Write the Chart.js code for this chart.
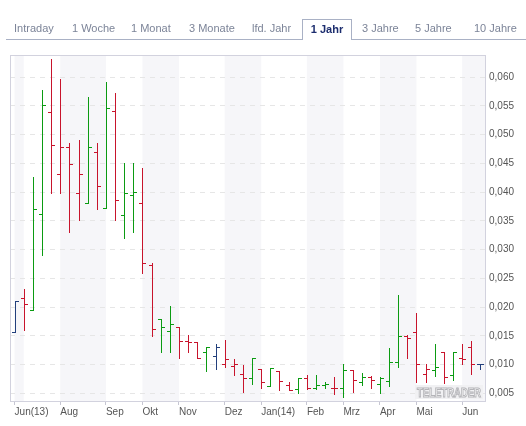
<!DOCTYPE html>
<html>
<head>
<meta charset="utf-8">
<title>1 Jahr</title>
<script src="https://cdn.jsdelivr.net/npm/chart.js@4.4.1/dist/chart.umd.min.js"></script>
<style>
  body { margin: 0; background: #fff; font-family: "Liberation Sans", Arial, sans-serif; }
  #wrap { position: relative; width: 526px; height: 426px; overflow: hidden; }
  #chart { position: absolute; left: 0; top: 0; }
  .tab-line { position: absolute; left: 6px; top: 39px; width: 520px; height: 1px; background: #a9b1c5; }
  .tab {
    position: absolute; top: 19px; height: 20px; line-height: 18px;
    font-size: 11px; color: #7c8498; white-space: nowrap;
  }
  .tab.active {
    color: #1c2d6e; font-weight: bold; background: #fff;
    border: 1px solid #a9b1c5; border-bottom: none;
    height: 20px; text-align: center; z-index: 2;
  }
</style>
</head>
<body>
<div id="wrap">
  <canvas id="chart" width="526" height="426"></canvas>
  <div class="tab-line"></div>
  <div class="tab" style="left:14px">Intraday</div>
  <div class="tab" style="left:72px">1 Woche</div>
  <div class="tab" style="left:131px">1 Monat</div>
  <div class="tab" style="left:189px">3 Monate</div>
  <div class="tab" style="left:252px">lfd. Jahr</div>
  <div class="tab active" style="left:302px;width:48px">1 Jahr</div>
  <div class="tab" style="left:362px">3 Jahre</div>
  <div class="tab" style="left:415px">5 Jahre</div>
  <div class="tab" style="left:474px">10 Jahre</div>
</div>
<script>
// Weekly bars (Friday dates)
const weekDates = [
  "2013-06-28", "2013-07-05", "2013-07-12", "2013-07-19", "2013-07-26",
  "2013-08-02", "2013-08-09", "2013-08-16", "2013-08-23", "2013-08-30",
  "2013-09-06", "2013-09-13", "2013-09-20", "2013-09-27",
  "2013-10-04", "2013-10-11", "2013-10-18", "2013-10-25",
  "2013-11-01", "2013-11-08", "2013-11-15", "2013-11-22", "2013-11-29",
  "2013-12-06", "2013-12-13", "2013-12-20", "2013-12-27",
  "2014-01-03", "2014-01-10", "2014-01-17", "2014-01-24", "2014-01-31",
  "2014-02-07", "2014-02-14", "2014-02-21", "2014-02-28",
  "2014-03-07", "2014-03-14", "2014-03-21", "2014-03-28",
  "2014-04-04", "2014-04-11", "2014-04-18", "2014-04-25",
  "2014-05-02", "2014-05-09", "2014-05-16", "2014-05-23", "2014-05-30",
  "2014-06-06", "2014-06-13", "2014-06-20"
]

const openPrices = [
  0.0156, 0.0215, 0.0195, 0.0361, 0.0540, 0.0432, 0.0479, 0.0398, 0.0381, 0.0470,
  0.0372, 0.0541, 0.0360, 0.0395, 0.0381, 0.0273, 0.0179, 0.0158, 0.0165, 0.0141,
  0.0139, 0.0121, 0.0115, 0.0101, 0.0098, 0.0084, 0.0076, 0.0092, 0.0063, 0.0088,
  0.0064, 0.0057, 0.0076, 0.0059, 0.0064, 0.0060, 0.0059, 0.0091, 0.0069, 0.0079,
  0.0066, 0.0071, 0.0105, 0.0150, 0.0157, 0.0083, 0.0091, 0.0122, 0.0081, 0.0111,
  0.0130, 0.0101
]
const highPrices = [
  0.0211, 0.0232, 0.0427, 0.0577, 0.0631, 0.0596, 0.0486, 0.0491, 0.0566, 0.0486,
  0.0592, 0.0573, 0.0450, 0.0450, 0.0441, 0.0276, 0.0179, 0.0202, 0.0165, 0.0151,
  0.0140, 0.0131, 0.0136, 0.0143, 0.0109, 0.0100, 0.0111, 0.0092, 0.0094, 0.0088,
  0.0070, 0.0076, 0.0081, 0.0081, 0.0069, 0.0079, 0.0101, 0.0091, 0.0085, 0.0080,
  0.0079, 0.0128, 0.0221, 0.0151, 0.0189, 0.0101, 0.0136, 0.0122, 0.0122, 0.0136,
  0.0141, 0.0101
]
const lowPrices = [
  0.0156, 0.0160, 0.0195, 0.0290, 0.0399, 0.0399, 0.0330, 0.0352, 0.0381, 0.0371,
  0.0372, 0.0351, 0.0320, 0.0330, 0.0260, 0.0150, 0.0121, 0.0121, 0.0112, 0.0121,
  0.0111, 0.0089, 0.0092, 0.0095, 0.0081, 0.0053, 0.0067, 0.0060, 0.0063, 0.0056,
  0.0055, 0.0050, 0.0057, 0.0057, 0.0060, 0.0048, 0.0044, 0.0053, 0.0065, 0.0060,
  0.0050, 0.0062, 0.0095, 0.0111, 0.0070, 0.0070, 0.0080, 0.0068, 0.0073, 0.0101,
  0.0083, 0.0092
]
const closePrices = [
  0.0211, 0.0206, 0.0371, 0.0552, 0.0481, 0.0479, 0.0449, 0.0432, 0.0479, 0.0411,
  0.0547, 0.0386, 0.0398, 0.0400, 0.0276, 0.0161, 0.0165, 0.0171, 0.0141, 0.0139,
  0.0111, 0.0131, 0.0131, 0.0109, 0.0101, 0.0076, 0.0111, 0.0069, 0.0094, 0.0071,
  0.0056, 0.0076, 0.0060, 0.0064, 0.0067, 0.0059, 0.0091, 0.0073, 0.0078, 0.0073,
  0.0076, 0.0105, 0.0150, 0.0146, 0.0101, 0.0092, 0.0095, 0.0079, 0.0122, 0.0109,
  0.0101, 0.0101
]

const yTickValues = [0.005, 0.010, 0.015, 0.020, 0.025, 0.030, 0.035, 0.040, 0.045, 0.050, 0.055, 0.060]
const yMin = 0.00366
const yMax = 0.06383

// Month labels under the axis (Jul is left out in the original)
const monthLabelDates = [
  "2013-06-28", "2013-08-02", "2013-09-06", "2013-10-04", "2013-11-01", "2013-12-06",
  "2014-01-03", "2014-02-07", "2014-03-07", "2014-04-04", "2014-05-02", "2014-06-06"
]
const monthLabels = ["Jun(13)", "Aug", "Sep", "Okt", "Nov", "Dez", "Jan(14)", "Feb", "Mrz", "Apr", "Mai", "Jun"]

const FONT = '"Liberation Sans", Arial, sans-serif'
const UP = "#0b9b12"
const DOWN = "#c8142c"
const SAME = "#223f7c"

// colour by comparison with the previous close
const barColors = closePrices.map((c, i) => {
  if (i === 0) return SAME
  if (c > closePrices[i - 1]) return UP
  if (c < closePrices[i - 1]) return DOWN
  return SAME
})

// first bar of each month -> alternating background bands
const monthStarts = weekDates
  .map((d, i) => (i === 0 || d.slice(5, 7) !== weekDates[i - 1].slice(5, 7) ? i : -1))
  .filter((i) => i >= 0)

function labelFor(index) {
  const k = monthLabelDates.indexOf(weekDates[index])
  return k >= 0 ? monthLabels[k] : ""
}

const ohlcPlugin = {
  id: "ohlc",
  beforeDraw(chart) {
    const { ctx, chartArea: a, scales: { x } } = chart
    ctx.save()
    ctx.fillStyle = "#f6f6f9"
    monthStarts.forEach((start, k) => {
      if (k % 2) return
      const x0 = x.getPixelForValue(start)
      const x1 = k + 1 < monthStarts.length ? x.getPixelForValue(monthStarts[k + 1]) : a.right
      ctx.fillRect(x0, a.top, x1 - x0, a.bottom - a.top)
    })
    ctx.restore()
  },
  beforeDatasetsDraw(chart) {
    // watermark
    const { ctx, chartArea: a } = chart
    ctx.save()
    ctx.fillStyle = "#f1f1f3"
    ctx.fillRect(a.right - 70, a.bottom - 16, 68, 14)
    ctx.font = "bold 12px " + FONT
    const text = "TELETRADER"
    const w = ctx.measureText(text).width
    ctx.translate(a.right - 68, a.bottom - 4)
    ctx.scale(64 / w, 1)
    ctx.fillStyle = "#ffffff"
    ctx.strokeStyle = "#b4b4b8"
    ctx.lineWidth = 1
    ctx.fillText(text, 0, 0)
    ctx.strokeText(text, 0, 0)
    ctx.restore()
  },
  afterDatasetsDraw(chart) {
    // high-low stroke from the bar elements, plus open (left) and close (right) ticks
    const { ctx, scales: { y } } = chart
    const bars = chart.getDatasetMeta(0).data
    ctx.save()
    ctx.lineWidth = 1
    bars.forEach((bar, i) => {
      const px = Math.round(bar.x) + 0.5
      const yo = Math.round(y.getPixelForValue(openPrices[i])) + 0.5
      const yc = Math.round(y.getPixelForValue(closePrices[i])) + 0.5
      ctx.strokeStyle = barColors[i]
      ctx.beginPath()
      ctx.moveTo(px, Math.round(bar.y))
      ctx.lineTo(px, Math.round(bar.base) + 1)
      ctx.moveTo(px - 3.5, yo)
      ctx.lineTo(px, yo)
      ctx.moveTo(px, yc)
      ctx.lineTo(px + 3.5, yc)
      ctx.stroke()
    })
    ctx.restore()
  },
  afterDraw(chart) {
    const { ctx, chartArea: a } = chart
    ctx.save()
    ctx.strokeStyle = "#d2d2de"
    ctx.lineWidth = 1
    ctx.strokeRect(Math.round(a.left) + 0.5, Math.round(a.top) + 0.5,
      Math.round(a.right - a.left), Math.round(a.bottom - a.top))
    ctx.restore()
  }
}

new Chart(document.getElementById("chart"), {
  type: "bar",
  data: {
    labels: weekDates,
    datasets: [{
      data: lowPrices.map((l, i) => [l, highPrices[i]]),
      // the plugin strokes each bar element as a crisp 1px line
      backgroundColor: "rgba(0,0,0,0)",
      borderWidth: 0,
      barThickness: 1
    }]
  },
  options: {
    responsive: false,
    animation: false,
    events: [],
    layout: { padding: { left: 10, top: 55, right: 0, bottom: 0 } },
    plugins: { legend: { display: false }, tooltip: { enabled: false } },
    scales: {
      x: {
        type: "category",
        offset: true,
        grid: {
          display: true,
          drawOnChartArea: false,
          drawTicks: true,
          tickLength: 4,
          offset: false,
          tickColor: (c) => (labelFor(c.index) ? "#c6c6d2" : "rgba(0,0,0,0)")
        },
        border: { display: false },
        ticks: {
          autoSkip: false,
          maxRotation: 0,
          align: "start",
          padding: 1,
          color: "#555555",
          font: { size: 10, family: FONT },
          callback: (v, i) => labelFor(i)
        },
        afterFit: (s) => { s.height = 25 }
      },
      y: {
        position: "right",
        min: yMin,
        max: yMax,
        afterBuildTicks: (s) => { s.ticks = yTickValues.map((v) => ({ value: v })) },
        grid: { color: "#e6e6e6", drawTicks: false, lineWidth: 1 },
        border: { display: false, dash: [5, 5] },
        ticks: {
          padding: 4,
          color: "#555555",
          font: { size: 10, family: FONT },
          callback: (v) => v.toFixed(3).replace(".", ",")
        },
        afterFit: (s) => { s.width = 41 }
      }
    }
  },
  plugins: [ohlcPlugin]
})
</script>
</body>
</html>
